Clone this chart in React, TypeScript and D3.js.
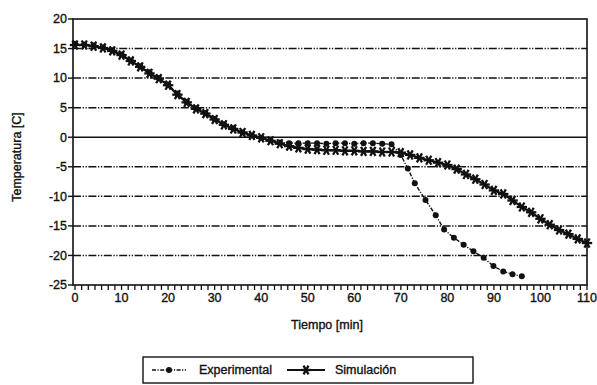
import React from "react";
import * as d3 from "d3";

const simTime = [0,2,4,6,8,10,12,14,16,18,20,22,24,26,28,30,32,34,36,38,40,42,44,46,48,50,52,54,56,58,60,62,64,66,68,70,72,74,76,78,80,82,84,86,88,90,92,94,96,98,100,102,104,106,108,110];
const simTemp = [15.6,15.6,15.4,15.1,14.6,13.9,12.9,11.9,10.8,9.9,8.8,7.2,5.9,4.8,4.0,3.0,2.1,1.4,0.8,0.3,-0.1,-0.6,-1.1,-1.5,-1.8,-2.0,-2.1,-2.2,-2.2,-2.3,-2.3,-2.4,-2.4,-2.5,-2.5,-2.6,-3.0,-3.5,-3.9,-4.3,-4.7,-5.4,-6.3,-7.1,-8.0,-9.0,-9.6,-10.7,-11.8,-12.7,-13.8,-14.8,-15.7,-16.4,-17.2,-17.9];

const expTime = [0,2,4,6,8,10,12,14,16,18,20,22,24,26,28,30,32,34,36,38,40,42,44,46,48,50,52,54,56,58,60,62,64,66,68,70,71.5,73,75.3,77.5,79.3,81.4,83.5,85.6,87.8,89.9,92,94,96];
const expTemp = [15.8,15.7,15.5,15.2,14.7,14.0,13.0,12.0,11.0,10.0,8.9,7.4,6.0,4.9,4.1,3.1,2.2,1.5,0.8,0.3,-0.1,-0.5,-0.9,-1.0,-1.0,-1.0,-1.0,-1.1,-1.0,-1.0,-1.1,-1.0,-1.0,-1.1,-1.2,-3.0,-5.3,-7.8,-10.6,-13.2,-15.6,-17.0,-18.2,-19.3,-20.4,-21.8,-22.7,-23.2,-23.5];

const yTicks = [20,15,10,5,0,-5,-10,-15,-20,-25];
const xTicks = [0,10,20,30,40,50,60,70,80,90,100,110];
const seriesNames = ["Experimental", "Simulación"];

const W = 597, H = 385;
const L = 73, R = 587, T = 19, B = 285;
const FONT = "'Liberation Sans', Arial, sans-serif";
const INK = "#111";

function Asterisk({ x, y, s }: { x: number; y: number; s: number }) {
  const a = s * 0.5, b = s * 0.87;
  return (
    <g stroke={INK} strokeWidth={2.3}>
      <line x1={x - s} y1={y} x2={x + s} y2={y} />
      <line x1={x - a} y1={y - b} x2={x + a} y2={y + b} />
      <line x1={x - a} y1={y + b} x2={x + a} y2={y - b} />
    </g>
  );
}

export default function App() {
  const x = d3.scaleLinear().domain([0, 110]).range([75, R]);
  const y = d3.scaleLinear().domain([-25, 20]).range([B, T]);
  const minor = d3.range(0, 110.001, 10 / 7);
  const line = d3.line<[number, number]>().x(d => x(d[0])).y(d => y(d[1]));
  const simPts: [number, number][] = simTime.map((t, i) => [t, simTemp[i]]);
  const expPts: [number, number][] = expTime.map((t, i) => [t, expTemp[i]]);
  const dashDot = "8,1.6,1.3,1.6,1.3,1.6";
  const txt = { fontSize: 12.5, fill: INK, stroke: INK, strokeWidth: 0.35 };

  return (
    <svg width={W} height={H} style={{ position: "absolute", left: 0, top: 0, background: "#fff" }} fontFamily={FONT}>
      <rect x={0} y={0} width={W} height={H} fill="#fff" />
      {yTicks.filter(v => v !== 20 && v !== -25).map(v => (
        <line key={v} x1={L} x2={R} y1={y(v)} y2={y(v)} stroke={INK}
          strokeWidth={v === 0 ? 1.4 : 1.5} strokeDasharray={v === 0 ? undefined : dashDot} />
      ))}
      <rect x={L} y={T} width={R - L} height={B - T} fill="none" stroke={INK} strokeWidth={1.6} />
      {yTicks.map(v => (
        <g key={v}>
          <line x1={L - 5} x2={L} y1={y(v)} y2={y(v)} stroke={INK} strokeWidth={1.4} />
          <text x={L - 6} y={y(v)} dy="0.35em" textAnchor="end" {...txt}>{v}</text>
        </g>
      ))}
      {minor.map((t, i) => (
        <line key={i} x1={x(t)} x2={x(t)} y1={B} y2={B + 5} stroke={INK} strokeWidth={1.3} />
      ))}
      {xTicks.map(t => (
        <text key={t} x={x(t)} y={B + 17} textAnchor="middle" {...txt}>{t}</text>
      ))}
      <text x={327} y={329} textAnchor="middle" {...txt}>Tiempo [min]</text>
      <text transform="translate(21,157) rotate(-90)" textAnchor="middle" {...txt}>Temperatura [C]</text>

      <path d={line(simPts) || ""} fill="none" stroke={INK} strokeWidth={2.2} />
      {simPts.map((p, i) => <Asterisk key={i} x={x(p[0])} y={y(p[1])} s={5.2} />)}
      <path d={line(expPts) || ""} fill="none" stroke={INK} strokeWidth={1.4} strokeDasharray="4,1.5,1.2,1.5" />
      {expPts.map((p, i) => <circle key={i} cx={x(p[0])} cy={y(p[1])} r={3} fill={INK} />)}

      <rect x={143} y={357} width={330} height={26} fill="#fff" stroke={INK} strokeWidth={1.4} />
      <line x1={152} x2={186} y1={370} y2={370} stroke={INK} strokeWidth={1.4} strokeDasharray="4,1.5,1.2,1.5" />
      <circle cx={169} cy={370} r={3} fill={INK} />
      <text x={199} y={370} dy="0.35em" {...txt}>{seriesNames[0]}</text>
      <line x1={287} x2={325} y1={370} y2={370} stroke={INK} strokeWidth={2} />
      <Asterisk x={306} y={370} s={5} />
      <text x={335} y={370} dy="0.35em" {...txt}>{seriesNames[1]}</text>
    </svg>
  );
}
